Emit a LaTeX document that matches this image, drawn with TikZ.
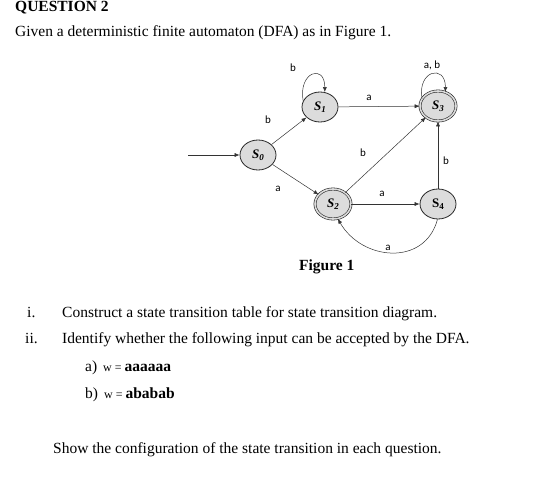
\documentclass[tikz,border=0pt]{standalone}
\usepackage{fontspec}
\setmainfont{Liberation Serif}
\newfontfamily\lblfont{Carlito}
\usetikzlibrary{arrows.meta,shapes.geometric}
\definecolor{stfill}{HTML}{DCDCDC}
\tikzset{
  st/.style={ellipse,draw=black!85,line width=0.8pt,fill=stfill,minimum width=36pt,minimum height=30pt,inner sep=0pt,font=\fontsize{13}{13}\selectfont\bfseries},
  acc/.style={st,double=stfill,double distance=1.6pt,line width=0.6pt},
  tr/.style={-{Latex[length=5pt,width=4pt]},line width=0.5pt,black!80},
  lbl/.style={font=\lblfont\fontsize{11}{12}\selectfont},
  txt/.style={anchor=base west,inner sep=0pt,font=\fontsize{15.5}{17}\selectfont}
}
\newcommand{\sname}[1]{\textit{S}\raisebox{-2.5pt}{\fontsize{9}{9}\selectfont\textit{#1}}}
\begin{document}
\begin{tikzpicture}[x=1pt,y=-1pt]
\useasboundingbox (0,0) rectangle (537,481);
\node[txt,font=\fontsize{15.5}{17}\selectfont\bfseries] (q) at (15,11.5) {QUESTION 2};
\node[txt] (given) at (15,36.5) {Given a deterministic finite automaton (DFA) as in Figure 1.};

\node[st] (S0) at (258,155) {\sname{0}};
\node[st] (S1) at (320,107) {\sname{1}};
\node[acc] (S3) at (438,106) {\sname{3}};
\node[acc] (S2) at (333,204) {\sname{2}};
\node[st] (S4) at (438,204) {S\raisebox{-2.5pt}{\fontsize{9}{9}\selectfont 4}};
\coordinate (init) at (188,155);

\draw[tr] (init) -- (S0);
\draw[tr] (S0) -- (S1);
\draw[tr] (S1.160) to[out=100,in=90,looseness=3.2] (S1.72);
\draw[tr] (S1) -- (S3);
\draw[tr] (S3.155) to[out=100,in=90,looseness=3] (S3.62);
\draw[tr] (S2) -- (S3);
\draw[tr] (S4) -- (S3);
\draw[tr] (S0) -- (S2);
\draw[tr] (S2) -- (S4);
\draw[tr] (S4.268) to[out=-105,in=-60,looseness=1.25] (S2.-72);

\node[lbl] (l1) at (268,120) {b};
\node[lbl] (l2) at (293,68) {b};
\node[lbl] (l3) at (369,98) {a};
\node[lbl] (l4) at (432,65) {a, b};
\node[lbl] (l5) at (363,153) {b};
\node[lbl] (l6) at (446,161) {b};
\node[lbl] (l7) at (278,189) {a};
\node[lbl] (l8) at (382,194) {a};
\node[lbl] (l9) at (388,248) {a};

\node[txt,font=\fontsize{15.5}{17}\selectfont\bfseries] (fig) at (299,270) {Figure 1};

\node[txt] (ri) at (27,317) {i.};
\node[txt] (ti) at (62,317) {Construct a state transition table for state transition diagram.};
\node[txt] (rii) at (25,343.5) {ii.};
\node[txt] (tii) at (62,343.5) {Identify whether the following input can be accepted by the DFA.};
\node[txt] (a) at (85,371) {a)\hspace{6pt}{\fontsize{12}{13}\selectfont w = }\textbf{aaaaaa}};
\node[txt] (b) at (85,398) {b)\hspace{6pt}{\fontsize{12}{13}\selectfont w = }\textbf{ababab}};
\node[txt] (show) at (53,453) {Show the configuration of the state transition in each question.};
\end{tikzpicture}
\end{document}
